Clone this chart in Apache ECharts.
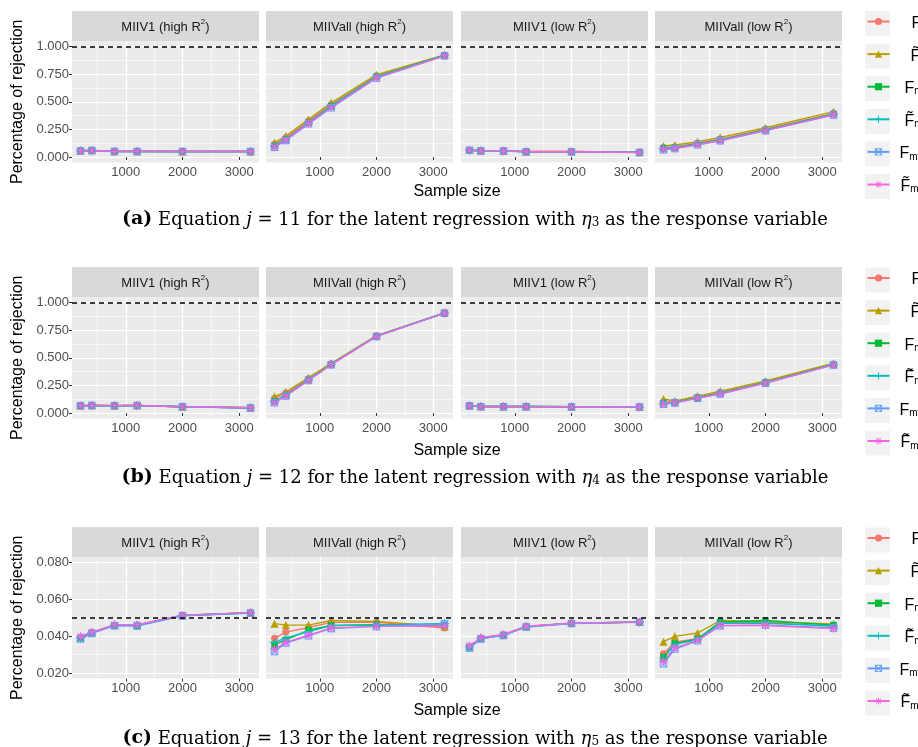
<!DOCTYPE html>
<html><head><meta charset="utf-8">
<script src="https://cdn.jsdelivr.net/npm/echarts@6/dist/echarts.min.js"></script>
<style>html,body{margin:0;padding:0;background:#fff}#c{width:918px;height:747px}</style>
</head><body><div id="c"></div>
<script>
// ---------- data ----------
const sampleSizes = [200, 400, 800, 1200, 2000, 3200];
const seriesNames = ['F', 'F\u0303', 'Fm', 'F\u0303m', 'Fmv', 'F\u0303mv'];
const seriesColors = ['#F8766D', '#B79F00', '#00BA38', '#00BFC4', '#619CFF', '#F564E3'];
const panelTitles = ['MIIV1 (high R{sup|2})', 'MIIVall (high R{sup|2})', 'MIIV1 (low R{sup|2})', 'MIIVall (low R{sup|2})'];
const xTicks = [1000, 2000, 3000];
const xMinor = [500, 1500, 2500];
const yTicksAB = [0, 0.25, 0.5, 0.75, 1];
const yMinorAB = [0.125, 0.375, 0.625, 0.875];
const yTicksC = [0.02, 0.04, 0.06, 0.08];
const yMinorC = [0.03, 0.05, 0.07];
const refLines = [1, 1, 0.05];
const captionLetters = ['(a)', '(b)', '(c)'];
const equationNumbers = [11, 12, 13];
const etaIndices = [3, 4, 5];

// rows of values: each panel = one row per series (F, F~, Fm, F~m, Fmv, F~mv)
const rowA_MIIV1_high = [
  [0.057, 0.060, 0.051, 0.052, 0.050, 0.050],
  [0.058, 0.061, 0.051, 0.052, 0.050, 0.050],
  [0.056, 0.059, 0.050, 0.051, 0.050, 0.049],
  [0.056, 0.059, 0.050, 0.051, 0.050, 0.049],
  [0.055, 0.058, 0.049, 0.050, 0.049, 0.049],
  [0.056, 0.059, 0.050, 0.051, 0.050, 0.049]
];
const rowA_MIIVall_high = [
  [0.115, 0.175, 0.325, 0.475, 0.735, 0.922],
  [0.130, 0.190, 0.340, 0.490, 0.745, 0.925],
  [0.100, 0.160, 0.310, 0.460, 0.725, 0.920],
  [0.100, 0.160, 0.310, 0.460, 0.725, 0.920],
  [0.088, 0.150, 0.300, 0.445, 0.715, 0.916],
  [0.090, 0.154, 0.302, 0.448, 0.716, 0.916]
];
const rowA_MIIV1_low = [
  [0.062, 0.057, 0.056, 0.049, 0.049, 0.043],
  [0.063, 0.058, 0.057, 0.050, 0.049, 0.043],
  [0.061, 0.056, 0.055, 0.048, 0.048, 0.042],
  [0.061, 0.056, 0.055, 0.048, 0.048, 0.042],
  [0.060, 0.055, 0.054, 0.048, 0.048, 0.041],
  [0.061, 0.056, 0.055, 0.048, 0.048, 0.042]
];
const rowA_MIIVall_low = [
  [0.085, 0.092, 0.125, 0.162, 0.252, 0.395],
  [0.100, 0.108, 0.138, 0.177, 0.265, 0.410],
  [0.078, 0.085, 0.118, 0.155, 0.245, 0.388],
  [0.076, 0.083, 0.116, 0.153, 0.243, 0.386],
  [0.066, 0.077, 0.110, 0.147, 0.238, 0.380],
  [0.068, 0.078, 0.111, 0.148, 0.238, 0.381]
];
const rowB_MIIV1_high = [
  [0.066, 0.068, 0.067, 0.068, 0.057, 0.048],
  [0.067, 0.069, 0.068, 0.069, 0.057, 0.048],
  [0.066, 0.068, 0.067, 0.068, 0.057, 0.047],
  [0.066, 0.068, 0.067, 0.068, 0.057, 0.047],
  [0.065, 0.067, 0.066, 0.067, 0.056, 0.045],
  [0.066, 0.068, 0.067, 0.068, 0.057, 0.047]
];
const rowB_MIIVall_high = [
  [0.130, 0.180, 0.310, 0.445, 0.698, 0.905],
  [0.150, 0.190, 0.320, 0.450, 0.700, 0.906],
  [0.105, 0.162, 0.300, 0.440, 0.695, 0.905],
  [0.105, 0.162, 0.300, 0.440, 0.695, 0.905],
  [0.092, 0.154, 0.295, 0.437, 0.693, 0.904],
  [0.093, 0.155, 0.296, 0.438, 0.693, 0.904]
];
const rowB_MIIV1_low = [
  [0.066, 0.059, 0.059, 0.058, 0.056, 0.055],
  [0.067, 0.060, 0.059, 0.059, 0.057, 0.056],
  [0.065, 0.058, 0.058, 0.058, 0.056, 0.055],
  [0.065, 0.058, 0.058, 0.058, 0.056, 0.055],
  [0.064, 0.057, 0.057, 0.057, 0.055, 0.054],
  [0.065, 0.058, 0.058, 0.058, 0.056, 0.055]
];
const rowB_MIIVall_low = [
  [0.100, 0.100, 0.142, 0.185, 0.280, 0.442],
  [0.126, 0.108, 0.153, 0.198, 0.290, 0.450],
  [0.090, 0.095, 0.138, 0.180, 0.276, 0.440],
  [0.088, 0.094, 0.137, 0.178, 0.275, 0.439],
  [0.080, 0.090, 0.134, 0.172, 0.270, 0.435],
  [0.081, 0.091, 0.135, 0.173, 0.271, 0.436]
];
const rowC_MIIV1_high = [
  [0.0393, 0.0420, 0.0460, 0.0460, 0.0513, 0.0527],
  [0.0395, 0.0421, 0.0461, 0.0461, 0.0514, 0.0528],
  [0.0390, 0.0418, 0.0459, 0.0458, 0.0512, 0.0526],
  [0.0392, 0.0419, 0.0460, 0.0459, 0.0512, 0.0527],
  [0.0384, 0.0415, 0.0457, 0.0455, 0.0510, 0.0525],
  [0.0399, 0.0422, 0.0462, 0.0462, 0.0514, 0.0528]
];
const rowC_MIIVall_high = [
  [0.0388, 0.0422, 0.0447, 0.0475, 0.0475, 0.0444],
  [0.0468, 0.0460, 0.0460, 0.0485, 0.0480, 0.0453],
  [0.0354, 0.0380, 0.0433, 0.0458, 0.0462, 0.0460],
  [0.0366, 0.0390, 0.0425, 0.0457, 0.0460, 0.0469],
  [0.0317, 0.0363, 0.0402, 0.0442, 0.0453, 0.0466],
  [0.0330, 0.0366, 0.0405, 0.0445, 0.0453, 0.0455]
];
const rowC_MIIV1_low = [
  [0.0342, 0.0389, 0.0407, 0.0452, 0.0470, 0.0476],
  [0.0344, 0.0390, 0.0408, 0.0453, 0.0471, 0.0477],
  [0.0340, 0.0387, 0.0406, 0.0451, 0.0470, 0.0476],
  [0.0341, 0.0388, 0.0406, 0.0452, 0.0470, 0.0476],
  [0.0336, 0.0385, 0.0404, 0.0450, 0.0469, 0.0475],
  [0.0348, 0.0391, 0.0409, 0.0454, 0.0471, 0.0477]
];
const rowC_MIIVall_low = [
  [0.0305, 0.0368, 0.0386, 0.0475, 0.0475, 0.0453],
  [0.0370, 0.0399, 0.0417, 0.0485, 0.0478, 0.0467],
  [0.0287, 0.0360, 0.0384, 0.0477, 0.0485, 0.0460],
  [0.0280, 0.0356, 0.0380, 0.0470, 0.0470, 0.0455],
  [0.0250, 0.0330, 0.0375, 0.0457, 0.0460, 0.0444],
  [0.0263, 0.0336, 0.0377, 0.0458, 0.0458, 0.0441]
];
const rowPanels = [
  [rowA_MIIV1_high, rowA_MIIVall_high, rowA_MIIV1_low, rowA_MIIVall_low],
  [rowB_MIIV1_high, rowB_MIIVall_high, rowB_MIIV1_low, rowB_MIIVall_low],
  [rowC_MIIV1_high, rowC_MIIVall_high, rowC_MIIV1_low, rowC_MIIVall_low]
];

// ---------- layout ----------
const panelLefts = [72, 266, 461, 655];
const panelWidth = 187;
const rowTops = [41, 297, 557];
const panelHeight = 121.5;
const stripHeight = 30;
const yRanges = [[-0.05, 1.05], [-0.05, 1.05], [0.017, 0.083]];
const legendCenters = [23.5, 280, 540];
const legendStep = 32.6;
const sampleSizeY = [192, 451, 711];
const captionY = [218, 476, 737];

// ---------- symbols ----------
function bar(angleDeg, w) {
  const a = angleDeg * Math.PI / 180, L = 10;
  const ux = Math.cos(a), uy = Math.sin(a), vx = -uy, vy = ux;
  const c = 10;
  const pts = [
    [c - ux * L - vx * w, c - uy * L - vy * w],
    [c + ux * L - vx * w, c + uy * L - vy * w],
    [c + ux * L + vx * w, c + uy * L + vy * w],
    [c - ux * L + vx * w, c - uy * L + vy * w]
  ];
  return 'M' + pts.map(p => p[0].toFixed(3) + ',' + p[1].toFixed(3)).join('L') + 'Z';
}
const plusSym = 'path://' + bar(0, 1.3) + bar(90, 1.3);
const starSym = 'path://' + bar(0, 1.2) + bar(90, 1.2) + bar(45, 1.2) + bar(135, 1.2);
const boxCrossSym = 'path://M0,0H20V20H0Z M2.4,2.4V17.6H17.6V2.4Z M0,1.6L1.6,0L20,18.4L18.4,20Z M20,1.6L1.6,20L0,18.4L18.4,0Z';
const seriesSymbols = ['circle', 'triangle', 'rect', plusSym, boxCrossSym, starSym];
const seriesSymbolSizes = [7, 8, 6.5, 8.5, 7.5, 8.5];

// ---------- build ----------
const grids = [], xAxes = [], yAxes = [], series = [], graphics = [], legends = [];
const FONT = 'Liberation Sans, Arial, sans-serif';
const SERIF = 'DejaVu Serif';

rowPanels.forEach((panels, r) => {
  const yTicks = r < 2 ? yTicksAB : yTicksC;
  const yMinor = r < 2 ? yMinorAB : yMinorC;
  panels.forEach((panel, p) => {
    const gi = grids.length;
    grids.push({
      left: panelLefts[p], top: rowTops[r], width: panelWidth, height: panelHeight,
      show: true, backgroundColor: '#ebebeb', borderWidth: 0, containLabel: false, outerBoundsMode: 'none'
    });
    xAxes.push({
      gridIndex: gi, type: 'value', min: 50, max: 3350, position: 'bottom',
      axisLine: { show: false },
      axisTick: { show: true, length: 3, lineStyle: { color: '#333333', width: 1 }, customValues: xTicks },
      axisLabel: { customValues: xTicks, color: '#4d4d4d', fontSize: 13, fontFamily: FONT, margin: 3,
        formatter: v => String(v) },
      splitLine: { show: true, lineStyle: { color: '#ffffff', width: 1.2 } }
    });
    xAxes.push({
      gridIndex: gi, type: 'value', min: 50, max: 3350, position: 'top',
      axisLine: { show: false },
      axisTick: { show: false, customValues: xMinor },
      axisLabel: { show: false, customValues: xMinor },
      splitLine: { show: true, lineStyle: { color: '#ffffff', width: 0.6 } }
    });
    yAxes.push({
      gridIndex: gi, type: 'value', min: yRanges[r][0], max: yRanges[r][1], position: 'left',
      axisLine: { show: false },
      axisTick: { show: p === 0, length: 3, lineStyle: { color: '#333333', width: 1 }, customValues: yTicks },
      axisLabel: { show: p === 0, customValues: yTicks, color: '#4d4d4d', fontSize: 13, fontFamily: FONT, margin: 3,
        formatter: v => v.toFixed(3) },
      splitLine: { show: true, lineStyle: { color: '#ffffff', width: 1.2 } }
    });
    yAxes.push({
      gridIndex: gi, type: 'value', min: yRanges[r][0], max: yRanges[r][1], position: 'right',
      axisLine: { show: false },
      axisTick: { show: false, customValues: yMinor },
      axisLabel: { show: false, customValues: yMinor },
      splitLine: { show: true, lineStyle: { color: '#ffffff', width: 0.6 } }
    });
    seriesNames.forEach((name, s) => {
      const ser = {
        type: 'line', name: name, xAxisIndex: 2 * gi, yAxisIndex: 2 * gi,
        data: sampleSizes.map((x, k) => [x, panel[s][k]]),
        symbol: seriesSymbols[s], symbolSize: seriesSymbolSizes[s], showSymbol: true,
        color: seriesColors[s],
        lineStyle: { width: 1.4, color: seriesColors[s] },
        itemStyle: { color: seriesColors[s] },
        emphasis: { disabled: true }, silent: true, animation: false
      };
      if (s === 0) {
        ser.markLine = {
          silent: true, symbol: 'none', animation: false,
          label: { show: false },
          lineStyle: { color: '#000000', type: [5, 4], width: 1.5 },
          emphasis: { disabled: true },
          data: [{ yAxis: refLines[r] }]
        };
      }
      series.push(ser);
    });
    // facet strip
    graphics.push({
      type: 'rect', z: 1,
      shape: { x: panelLefts[p], y: rowTops[r] - stripHeight, width: panelWidth, height: stripHeight },
      style: { fill: '#d9d9d9' }
    });
    graphics.push({
      type: 'text', z: 2, x: panelLefts[p] + panelWidth / 2, y: rowTops[r] - stripHeight / 2,
      style: {
        text: '{t|' + panelTitles[p].replace('{sup|2}', '}{sup|2}{t|') + '}', align: 'center', verticalAlign: 'middle',
        rich: {
          t: { fontSize: 13, fontFamily: FONT, fill: '#1a1a1a', verticalAlign: 'bottom', lineHeight: 16 },
          sup: { fontSize: 8, fontFamily: FONT, fill: '#1a1a1a', verticalAlign: 'top', lineHeight: 8 }
        }
      }
    });
  });
  // axis titles
  graphics.push({
    type: 'text', z: 2, x: 18, y: rowTops[r] + panelHeight / 2, rotation: Math.PI / 2,
    style: { text: 'Percentage of rejection', align: 'center', verticalAlign: 'middle', fill: '#000', font: '16px ' + FONT }
  });
  graphics.push({
    type: 'text', z: 2, x: 457, y: sampleSizeY[r],
    style: { text: 'Sample size', align: 'center', verticalAlign: 'middle', fill: '#000', font: '16px ' + FONT }
  });
  // caption
  graphics.push({
    type: 'text', z: 2, x: 475, y: captionY[r],
    style: {
      text: '{b|' + captionLetters[r] + '}{r| Equation }{i|j}{r| = ' + equationNumbers[r] +
        ' for the latent regression with }{i|\u03b7}{s|' + etaIndices[r] + '}{r| as the response variable}',
      align: 'center', verticalAlign: 'middle',
      rich: {
        b: { fontFamily: SERIF, fontWeight: 'bold', fontSize: 19, fill: '#000', verticalAlign: 'bottom', lineHeight: 22 },
        r: { fontFamily: SERIF, fontSize: 18, fill: '#000', verticalAlign: 'bottom', lineHeight: 22 },
        i: { fontFamily: SERIF, fontStyle: 'italic', fontSize: 18, fill: '#000', verticalAlign: 'bottom', lineHeight: 22 },
        s: { fontFamily: SERIF, fontSize: 12, fill: '#000', verticalAlign: 'bottom', lineHeight: 10 }
      }
    }
  });
  // legend
  const legendText = ['{p17| }{m|F}', '{p16| }{m|F\u0303}', '{p10| }{m|F}{s|m}', '{p10| }{m|F\u0303}{s|m}', '{p5| }{m|F}{s|mv}', '{p6| }{m|F\u0303}{s|mv}'];
  seriesNames.forEach((name, s) => {
    const cy = legendCenters[r] + s * legendStep;
    graphics.push({
      type: 'rect', z: 1,
      shape: { x: 865, y: cy - 12.5, width: 25, height: 25 },
      style: { fill: '#f2f2f2' }
    });
    legends.push({
      data: [name], left: 866.5, top: cy - 10, orient: 'vertical', padding: 0,
      itemWidth: 22, itemHeight: 9, selectedMode: false, z: 4,
      formatter: () => legendText[s],
      textStyle: {
        fontFamily: FONT, fontSize: 16, color: '#000',
        rich: {
          p17: { width: 17 }, p16: { width: 16 }, p10: { width: 10 }, p6: { width: 6 }, p5: { width: 5 },
          m: { fontFamily: FONT, fontSize: 16, color: '#000', verticalAlign: 'bottom', lineHeight: 20 },
          s: { fontFamily: FONT, fontSize: 10, color: '#000', verticalAlign: 'bottom', lineHeight: 4 }
        }
      }
    });
  });
});

const chart = echarts.init(document.getElementById('c'), null, { renderer: 'canvas' });
chart.setOption({
  animation: false,
  backgroundColor: '#ffffff',
  grid: grids, xAxis: xAxes, yAxis: yAxes, series: series,
  legend: legends, graphic: graphics
});
</script>
</body></html>
